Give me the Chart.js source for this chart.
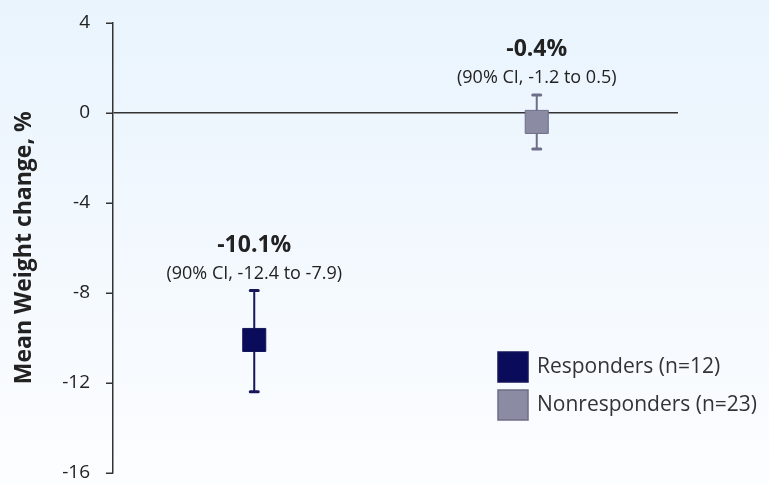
<!DOCTYPE html>
<html>
<head>
<meta charset="utf-8">
<script src="https://cdn.jsdelivr.net/npm/chart.js@4.4.0/dist/chart.umd.min.js"></script>
<style>
html, body { margin: 0; padding: 0; background: #fff; }
</style>
</head>
<body>
<canvas id="weightChart" width="769" height="484"></canvas>
<script>
const groupLabels = ['Responders (n=12)', 'Nonresponders (n=23)'];
const groupX = [0.25, 0.75];
const meanChange = [-10.1, -0.4];
const ciUpper = [-7.9, 0.8];
const ciLower = [-12.4, -1.6];
const valueLabels = ['-10.1%', '-0.4%'];
const ciLabels = ['(90% CI, -12.4 to -7.9)', '(90% CI, -1.2 to 0.5)'];
const yTicks = [4, 0, -4, -8, -12, -16];

const fillColors = ['#0b0b5c', '#8b8ba3'];
const edgeColors = ['#15155a', '#6e6e88'];
const FONT = '"Open Sans", sans-serif';

// light blue wash behind everything
const backdrop = {
    id: 'backdrop',
    beforeDraw(chart) {
        const {ctx, width, height} = chart;
        const g = ctx.createLinearGradient(0, 0, 0, height);
        g.addColorStop(0, '#e9f4fd');
        g.addColorStop(1, '#fcfdff');
        ctx.save();
        ctx.fillStyle = g;
        ctx.fillRect(0, 0, width, height);
        ctx.restore();
    }
};

// short tick marks on the y axis (label gap is done with a long invisible tick)
const shortTicks = {
    id: 'shortTicks',
    afterDraw(chart) {
        const {ctx, scales: {y}} = chart;
        const ax = y.right;
        ctx.save();
        ctx.strokeStyle = '#333';
        ctx.lineWidth = 1.5;
        ctx.beginPath();
        yTicks.forEach(v => {
            const py = Math.round(y.getPixelForValue(v)) + 0.25;
            ctx.moveTo(ax - 7, py);
            ctx.lineTo(ax, py);
        });
        ctx.stroke();
        ctx.restore();
    }
};

// whiskers under the squares, value + CI text above
const errorBars = {
    id: 'errorBars',
    beforeDatasetsDraw(chart) {
        const {ctx, scales: {x, y}} = chart;
        ctx.save();
        groupX.forEach((gx, i) => {
            const px = x.getPixelForValue(gx);
            const top = y.getPixelForValue(ciUpper[i]);
            const bot = y.getPixelForValue(ciLower[i]);
            ctx.strokeStyle = edgeColors[i];
            ctx.lineWidth = 2;
            ctx.beginPath();
            ctx.moveTo(px, top);
            ctx.lineTo(px, bot);
            ctx.stroke();
            ctx.lineWidth = 3;
            ctx.lineCap = 'round';
            ctx.beginPath();
            ctx.moveTo(px - 4, top);
            ctx.lineTo(px + 4, top);
            ctx.moveTo(px - 4, bot);
            ctx.lineTo(px + 4, bot);
            ctx.stroke();
        });
        ctx.restore();
    },
    afterDatasetsDraw(chart) {
        const {ctx, scales: {x, y}} = chart;
        ctx.save();
        ctx.textAlign = 'center';
        ctx.textBaseline = 'middle';
        ctx.fillStyle = '#222';
        groupX.forEach((gx, i) => {
            const px = x.getPixelForValue(gx);
            const top = y.getPixelForValue(ciUpper[i]);
            ctx.font = 'bold 23px ' + FONT;
            ctx.fillText(valueLabels[i], px, top - 45);
            ctx.font = '18px ' + FONT;
            ctx.fillText(ciLabels[i], px, top - 17);
        });
        ctx.restore();
    }
};

const boxLegend = {
    id: 'boxLegend',
    afterDraw(chart) {
        const {ctx} = chart;
        ctx.save();
        ctx.textAlign = 'left';
        ctx.textBaseline = 'middle';
        ctx.font = '21px ' + FONT;
        groupLabels.forEach((lab, i) => {
            const by = 352 + i * 38;
            ctx.fillStyle = fillColors[i];
            ctx.fillRect(498, by, 30, 30);
            ctx.strokeStyle = edgeColors[i];
            ctx.lineWidth = 1.5;
            ctx.strokeRect(498, by, 30, 30);
            ctx.fillStyle = '#333';
            ctx.fillText(lab, 537, by + 15);
        });
        ctx.restore();
    }
};

const ctx = document.getElementById('weightChart').getContext('2d');
const weightChart = new Chart(ctx, {
    type: 'scatter',
    data: {
        datasets: groupLabels.map((lab, i) => ({
            label: lab,
            data: [{x: groupX[i], y: meanChange[i]}],
            pointStyle: 'rect',
            pointRadius: 16.3,
            pointHoverRadius: 16.3,
            backgroundColor: fillColors[i],
            borderColor: edgeColors[i],
            borderWidth: 1
        }))
    },
    options: {
        responsive: false,
        animation: false,
        layout: {
            autoPadding: false,
            padding: {top: 23, right: 91, bottom: 11, left: 0}
        },
        plugins: {
            legend: {display: false},
            tooltip: {enabled: false}
        },
        scales: {
            x: {
                type: 'linear',
                display: false,
                min: 0,
                max: 1
            },
            y: {
                min: -16,
                max: 4,
                afterBuildTicks: (scale) => {
                    scale.ticks = yTicks.map(v => ({value: v}));
                },
                afterFit: (scale) => {
                    scale.width = 113;
                },
                border: {display: true, color: '#333', width: 1.5},
                grid: {
                    color: (c) => (c.tick && c.tick.value === 0 ? '#333' : 'rgba(0,0,0,0)'),
                    lineWidth: 1.5,
                    tickColor: 'rgba(0,0,0,0)',
                    tickLength: 23
                },
                ticks: {
                    color: '#222',
                    padding: 0,
                    font: {family: FONT, size: 19}
                },
                title: {
                    display: true,
                    text: 'Mean Weight change, %',
                    color: '#222',
                    padding: {top: 11, bottom: 0},
                    font: {family: FONT, size: 23, weight: 'bold'}
                }
            }
        }
    },
    plugins: [backdrop, errorBars, shortTicks, boxLegend]
});
</script>
</body>
</html>
